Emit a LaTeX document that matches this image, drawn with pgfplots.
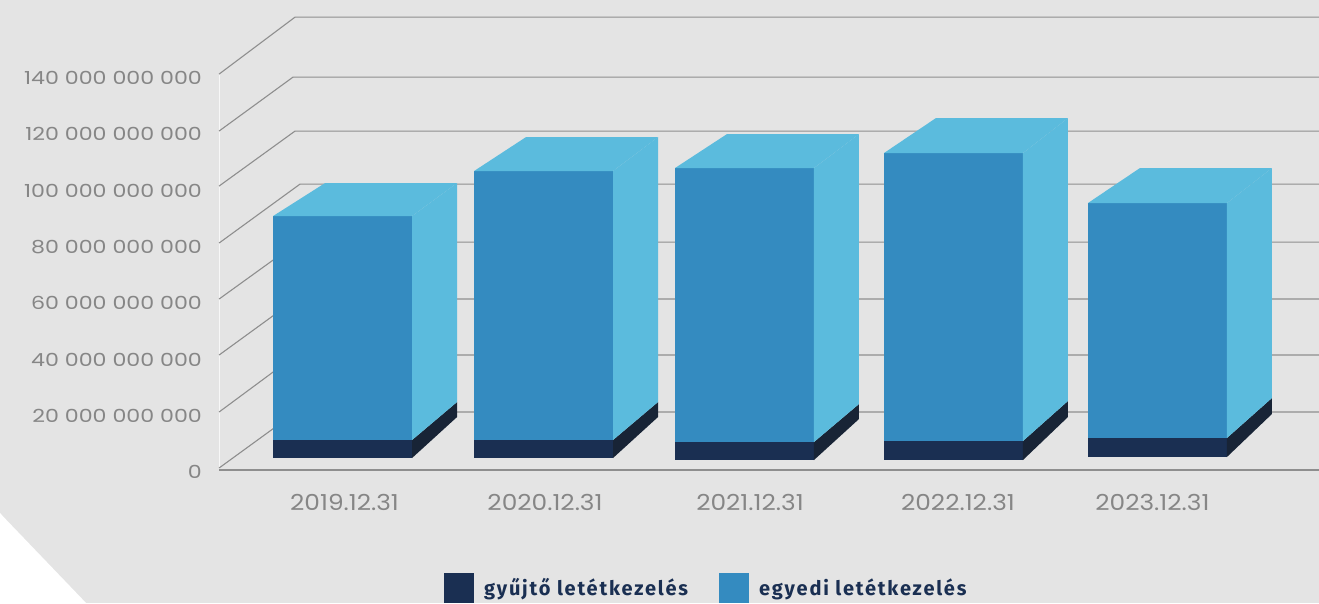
\documentclass[border=0pt]{standalone}
\usepackage{fontspec}
\usepackage{pgfplots}
\pgfplotsset{compat=1.18}
\setmainfont{Poppins}
\newfontfamily\ylabfont[FakeStretch=1.23]{Poppins}
\newfontfamily\xlabfont[FakeStretch=1.13]{Poppins}
\newfontfamily\legfont[LetterSpace=9.0]{Fira Sans}
\definecolor{bgc}{HTML}{E4E4E4}
\definecolor{front}{HTML}{348BC0}
\definecolor{light}{HTML}{5BBBDD}
\definecolor{dark}{HTML}{1A2F52}
\definecolor{darker}{HTML}{182436}
\definecolor{gridc}{HTML}{8E8E8E}
\definecolor{txt}{HTML}{868686}
% x0 x1 bottom split top
\newcommand\barfront[5]{%
  \addplot[fill=dark,draw=none,forget plot] coordinates {(#1,#3) (#2,#3) (#2,#4) (#1,#4)} --cycle;
  \addplot[fill=front,draw=none,forget plot] coordinates {(#1,#4) (#2,#4) (#2,#5) (#1,#5)} --cycle;
}
% x1 x2 bottom split top backbottom backsplit backtop
\newcommand\barside[8]{%
  \addplot[fill=darker,draw=none,forget plot] coordinates {(#1,#3) (#2,#6) (#2,#7) (#1,#4)} --cycle;
  \addplot[fill=light,draw=none,forget plot] coordinates {(#1,#4) (#2,#7) (#2,#8) (#1,#5)} --cycle;
}
% x0 x1 xb0 x2 top backtop
\newcommand\bartop[6]{%
  \addplot[fill=light,draw=none,forget plot] coordinates {(#1,#5) (#2,#5) (#4,#6) (#3,#6)} --cycle;
}
\newcommand\gridl[4]{%
  \addplot[gridc,line width=1.1pt,forget plot] coordinates {(219,#1) (#2,#3) (1319,#3)};
}
\begin{document}
\begin{tikzpicture}
\begin{axis}[
  scale only axis, width=1319pt, height=603pt,
  xmin=0, xmax=1319, ymin=-47.26, ymax=167.0,
  axis line style={draw=none},
  major tick length=0pt,
  clip=true,
  axis on top=true,
  ytick={0,20,40,60,80,100,120,140},
  yticklabels={0,20 000 000 000,40 000 000 000,60 000 000 000,80 000 000 000,100 000 000 000,120 000 000 000,140 000 000 000},
  y tick label style={anchor=east,xshift=202pt,yshift=-2pt,font=\ylabfont\fontsize{18}{18}\selectfont,text=txt,inner sep=0pt},
  xtick={344.5,545,750,958,1152.5},
  xticklabels={2019.12.31,2020.12.31,2021.12.31,2022.12.31,2023.12.31},
  x tick label style={anchor=center,yshift=101pt,font=\xlabfont\fontsize{22}{22}\selectfont,text=txt,inner sep=0pt},
  legend style={at={(axis cs:444,-47.26)},anchor=south west,draw=none,fill=none,inner sep=0pt,outer sep=0pt,
    legend columns=2,font=\legfont\bfseries\fontsize{20}{20}\selectfont,text=dark,
    /tikz/every odd column/.append style={column sep=8pt},
    /tikz/every even column/.append style={column sep=29pt}},
  legend cell align=left,
  legend image code/.code={\fill[#1] (0pt,-15pt) rectangle (30pt,15pt);},
]
% background
\addplot[fill=bgc,draw=none,forget plot] coordinates {(0,-47.26) (1319,-47.26) (1319,167) (0,167)} --cycle;
\addplot[fill=white,draw=none,forget plot] coordinates {(0,-15.28) (3,-16.5) (86,-47.26) (0,-47.26)} --cycle;
% walls
\addplot[color=white!70!bgc,line width=1.5pt,forget plot] coordinates {(219.5,0) (219.5,140.7)};
\gridl{140.7}{295}{160.96}{}
\gridl{120.46}{293}{139.64}{}
\gridl{100.91}{295}{120.46}{}
\gridl{80.66}{300}{101.62}{}
\gridl{60.76}{298}{81.01}{}
\gridl{40.86}{296}{60.76}{}
\gridl{20.61}{296}{40.86}{}
\gridl{0.71}{296}{20.61}{}
\addplot[gridc,line width=1.1pt,forget plot] coordinates {(219,0) (1319,0)};
% legend keys come from the first bar
\addplot[fill=dark,draw=none] coordinates {(273,4.26) (412,4.26) (412,10.66) (273,10.66)} --cycle;
\addlegendentry{gyűjtő letétkezelés}
\addplot[fill=front,draw=none] coordinates {(273,10.66) (412,10.66) (412,90.25) (273,90.25)} --cycle;
\addlegendentry{egyedi letétkezelés}
\barside{412}{457}{4.26}{10.66}{90.25}{18.83}{24.16}{101.98}
\bartop{273}{412}{325}{457}{90.25}{101.98}
%
\barfront{474}{613}{4.26}{10.66}{106.24}
\barside{613}{658}{4.26}{10.66}{106.24}{18.83}{24.16}{118.32}
\bartop{474}{613}{526}{658}{106.24}{118.32}
%
\barfront{675}{814}{3.55}{9.95}{107.31}
\barside{814}{859}{3.55}{9.95}{107.31}{18.12}{23.45}{119.39}
\bartop{675}{814}{727}{859}{107.31}{119.39}
%
\barfront{884}{1023}{3.55}{10.30}{112.64}
\barside{1023}{1068}{3.55}{10.30}{112.64}{18.83}{24.52}{125.08}
\bartop{884}{1023}{936}{1068}{112.64}{125.08}
%
\barfront{1088}{1227}{4.62}{11.37}{94.87}
\barside{1227}{1272}{4.62}{11.37}{94.87}{19.90}{25.58}{107.31}
\bartop{1088}{1227}{1140}{1272}{94.87}{107.31}
\end{axis}
\end{tikzpicture}
\end{document}
